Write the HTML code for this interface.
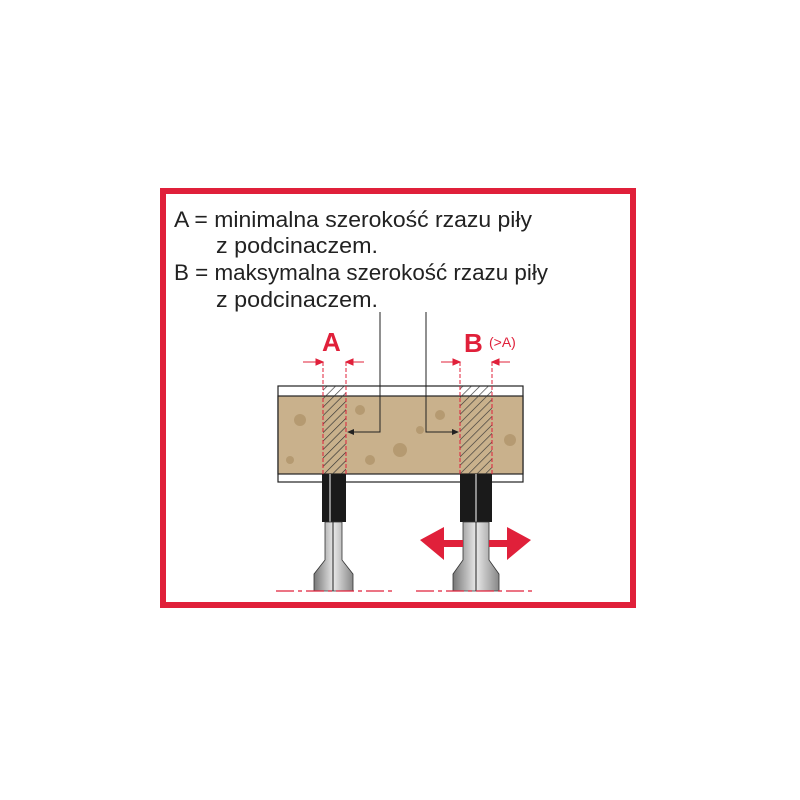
<!DOCTYPE html>
<html><head><meta charset="utf-8"><style>
html,body{margin:0;padding:0;background:#fff;}
svg{display:block}
</style></head><body>
<svg width="800" height="800" viewBox="0 0 800 800" xmlns="http://www.w3.org/2000/svg">
<defs>
<pattern id="hatch" width="6" height="6" patternUnits="userSpaceOnUse" patternTransform="rotate(45)">
<rect width="6" height="6" fill="none"/><line x1="0" y1="0" x2="0" y2="6" stroke="#333" stroke-width="1.3"/>
</pattern>
<linearGradient id="shaft" x1="0" x2="1">
<stop offset="0" stop-color="#777"/><stop offset="0.5" stop-color="#e8e8e8"/><stop offset="1" stop-color="#888"/>
</linearGradient>
</defs>
<rect x="163" y="191" width="470" height="414" fill="none" stroke="#e0203a" stroke-width="6"/>
<g font-family="Liberation Sans, sans-serif" font-size="22" fill="#222">
<text x="174" y="227" textLength="358" lengthAdjust="spacingAndGlyphs">A = minimalna szerokość rzazu piły</text>
<text x="216" y="253" textLength="162" lengthAdjust="spacingAndGlyphs">z podcinaczem.</text>
<text x="174" y="280" textLength="374" lengthAdjust="spacingAndGlyphs">B = maksymalna szerokość rzazu piły</text>
<text x="216" y="307" textLength="162" lengthAdjust="spacingAndGlyphs">z podcinaczem.</text>
</g>
<!-- board -->
<rect x="278" y="386" width="245" height="96" fill="#fff" stroke="#222" stroke-width="1.2"/>
<rect x="278" y="396" width="245" height="78" fill="#c9b18c" stroke="#222" stroke-width="1.2"/>
<g fill="#a88b60" opacity="0.6">
<circle cx="300" cy="420" r="6"/><circle cx="360" cy="410" r="5"/><circle cx="400" cy="450" r="7"/><circle cx="440" cy="415" r="5"/><circle cx="510" cy="440" r="6"/><circle cx="290" cy="460" r="4"/><circle cx="370" cy="460" r="5"/><circle cx="420" cy="430" r="4"/>
</g>
<rect x="323" y="386" width="23" height="88" fill="url(#hatch)"/>
<rect x="460" y="386" width="32" height="88" fill="url(#hatch)"/>
<g stroke="#e0203a" stroke-width="1" stroke-dasharray="4,2">
<line x1="323" y1="362" x2="323" y2="474"/><line x1="346" y1="362" x2="346" y2="474"/>
<line x1="460" y1="362" x2="460" y2="474"/><line x1="492" y1="362" x2="492" y2="474"/>
</g>
<g stroke="#e0203a" stroke-width="1" fill="#e0203a">
<line x1="303" y1="362" x2="323" y2="362"/><line x1="346" y1="362" x2="364" y2="362"/>
<line x1="441" y1="362" x2="460" y2="362"/><line x1="492" y1="362" x2="510" y2="362"/>
<path d="M323 362 l-7 -3 v6z M346 362 l7 -3 v6z M460 362 l-7 -3 v6z M492 362 l7 -3 v6z"/>
</g>
<g font-family="Liberation Sans, sans-serif" fill="#e0203a" font-weight="bold">
<text x="322" y="351" font-size="26">A</text>
<text x="464" y="352" font-size="26">B</text>
<text x="489" y="347" font-size="14" font-weight="normal">(&gt;A)</text>
</g>
<!-- leaders -->
<g stroke="#222" stroke-width="1" fill="none">
<path d="M380 312 V432 H350"/><path d="M426 312 V432 H456"/>
</g>
<path d="M347 432 l7 -3 v6z M459 432 l-7 -3 v6z" fill="#222"/>
<!-- blades -->
<rect x="322" y="474" width="24" height="48" fill="#1a1a1a"/>
<line x1="330" y1="474" x2="330" y2="522" stroke="#fff" stroke-width="1"/>
<rect x="460" y="474" width="32" height="48" fill="#1a1a1a"/>
<line x1="476" y1="474" x2="476" y2="522" stroke="#fff" stroke-width="1"/>
<!-- shafts -->
<path d="M325 522 H342 V560 L353 574 V591 H314 V574 L325 560Z" fill="url(#shaft)" stroke="#333" stroke-width="0.8"/>
<line x1="333" y1="522" x2="333" y2="591" stroke="#222"/>
<path d="M463 522 H489 V560 L499 574 V591 H453 V574 L463 560Z" fill="url(#shaft)" stroke="#333" stroke-width="0.8"/>
<line x1="476" y1="522" x2="476" y2="591" stroke="#222"/>
<!-- red arrows -->
<path d="M420 540 L444 527 V540 H463 V547 H444 V560Z" fill="#e0203a"/>
<path d="M531 540 L507 527 V540 H489 V547 H507 V560Z" fill="#e0203a"/>
<!-- dash-dot baselines -->
<g stroke="#e0203a" stroke-width="1.3" stroke-dasharray="18,4,4,4">
<line x1="276" y1="591" x2="392" y2="591"/><line x1="416" y1="591" x2="533" y2="591"/>
</g>
</svg>
</body></html>
